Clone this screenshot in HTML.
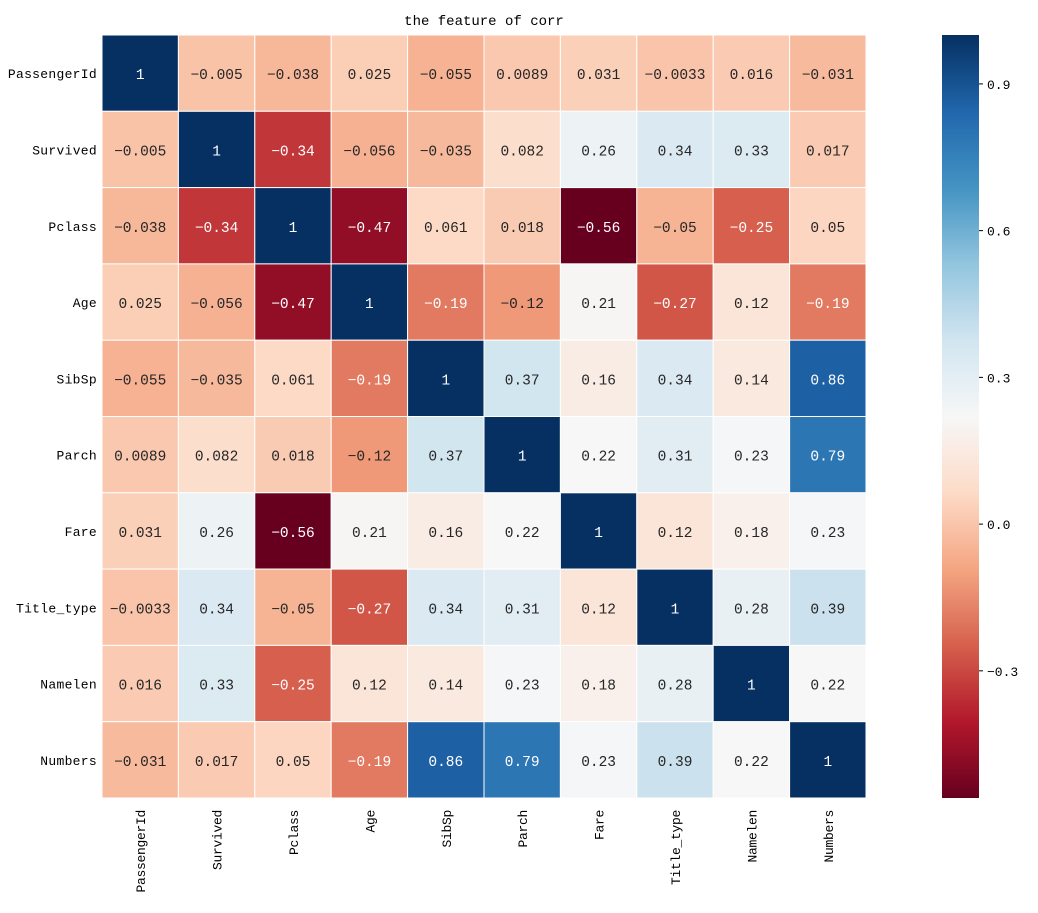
<!DOCTYPE html>
<html><head><meta charset="utf-8"><style>
body{margin:0;background:#fff;}
svg text{font-family:"Liberation Mono","DejaVu Sans Mono",monospace;}
</style></head><body>
<svg id="c" width="1038" height="908" xmlns="http://www.w3.org/2000/svg">
<text x="484" y="25" font-size="14" text-anchor="middle" fill="#000">the feature of corr</text>
<defs><linearGradient id="cb" x1="0" y1="1" x2="0" y2="0"></linearGradient></defs>
<g id="cells"></g>
<g id="labels"></g>
<g id="cbar"></g>
</svg>
<script>
const categories=["PassengerId","Survived","Pclass","Age","SibSp","Parch","Fare","Title_type","Namelen","Numbers"];
const row0=[1,-0.005,-0.038,0.025,-0.055,0.0089,0.031,-0.0033,0.016,-0.031];
const row1=[-0.005,1,-0.34,-0.056,-0.035,0.082,0.26,0.34,0.33,0.017];
const row2=[-0.038,-0.34,1,-0.47,0.061,0.018,-0.56,-0.05,-0.25,0.05];
const row3=[0.025,-0.056,-0.47,1,-0.19,-0.12,0.21,-0.27,0.12,-0.19];
const row4=[-0.055,-0.035,0.061,-0.19,1,0.37,0.16,0.34,0.14,0.86];
const row5=[0.0089,0.082,0.018,-0.12,0.37,1,0.22,0.31,0.23,0.79];
const row6=[0.031,0.26,-0.56,0.21,0.16,0.22,1,0.12,0.18,0.23];
const row7=[-0.0033,0.34,-0.05,-0.27,0.34,0.31,0.12,1,0.28,0.39];
const row8=[0.016,0.33,-0.25,0.12,0.14,0.23,0.18,0.28,1,0.22];
const row9=[-0.031,0.017,0.05,-0.19,0.86,0.79,0.23,0.39,0.22,1];
const matrix=[row0,row1,row2,row3,row4,row5,row6,row7,row8,row9];
const cbarTicks=[0.9,0.6,0.3,0.0,-0.3];
const vmin=-0.56,vmax=1;
const stops=["#67001f","#b2182b","#d6604d","#f4a582","#fddbc7","#f7f7f7","#d1e5f0","#92c5de","#4393c3","#2166ac","#053061"].map(h=>[parseInt(h.slice(1,3),16),parseInt(h.slice(3,5),16),parseInt(h.slice(5,7),16)]);
function cmap(v){let t=Math.max(0,Math.min(1,(v-vmin)/(vmax-vmin)))*10;let i=Math.min(9,Math.floor(t));let f=t-i;return stops[i].map((c,k)=>Math.round(c+(stops[i+1][k]-c)*f));}
function lum(c){const l=c.map(x=>{x/=255;return x<=0.03928?x/12.92:Math.pow((x+0.055)/1.055,2.4)});return 0.2126*l[0]+0.7152*l[1]+0.0722*l[2];}
const X0=102,Y0=35,W=764,H=763,n=categories.length,cw=W/n,ch=H/n;
const xs=i=>X0+i*cw, ys=j=>Y0+j*ch;
const NS="http://www.w3.org/2000/svg";
function mk(tag,attrs,parent){const e=document.createElementNS(NS,tag);for(const k in attrs)e.setAttribute(k,attrs[k]);parent.appendChild(e);return e;}
const cells=document.getElementById('cells'),labels=document.getElementById('labels'),cbar=document.getElementById('cbar');
function fmt(v){return String(v).replace('-','\u2212');}
matrix.forEach((row,j)=>row.forEach((v,i)=>{
 const c=cmap(v);
 const r=mk('rect',{x:xs(i),y:ys(j),width:cw,height:ch,fill:`rgb(${c})`,stroke:'#fff','stroke-width':1},cells);
 
 
 const t=mk('text',{x:xs(i)+cw/2,y:ys(j)+ch/2+6,'font-size':14.5,'text-anchor':'middle',fill:lum(c)>0.408?'#262626':'#fff'},cells);
 t.textContent=fmt(v);
 
 
}));
categories.forEach((c,j)=>{
 const t=mk('text',{x:X0-5,y:ys(j)+ch/2+5,'font-size':13,'letter-spacing':0.3,'text-anchor':'end',fill:'#000'},labels);
 t.textContent=c;
 
 
 const u=mk('text',{transform:`translate(${xs(j)+cw/2+5},${Y0+H+12}) rotate(-90)`,'font-size':13,'letter-spacing':-0.3,'text-anchor':'end',fill:'#000'},labels);
 u.textContent=c;
 
 
});
const CX=942,CW=37,CY0=35,CH=763;
const cy=v=>CY0+(vmax-v)/(vmax-vmin)*CH;
const grad=document.getElementById('cb');
for(let k=0;k<=20;k++){const v=vmin+(vmax-vmin)*k/20;mk('stop',{offset:k/20,'stop-color':`rgb(${cmap(v)})`},grad);}
const cb=mk('rect',{x:CX,y:CY0,width:CW,height:CH,fill:'url(#cb)'},cbar);


cbarTicks.forEach(v=>{
 const l=mk('line',{x1:CX+CW,x2:CX+CW+4,y1:cy(v),y2:cy(v),stroke:'#000'},cbar);
 
 
 const t=mk('text',{x:CX+CW+8,y:cy(v)+5,'font-size':13,fill:'#000'},cbar);
 t.textContent=fmt(v.toFixed(1));
 
 
});
</script>
</body></html>
